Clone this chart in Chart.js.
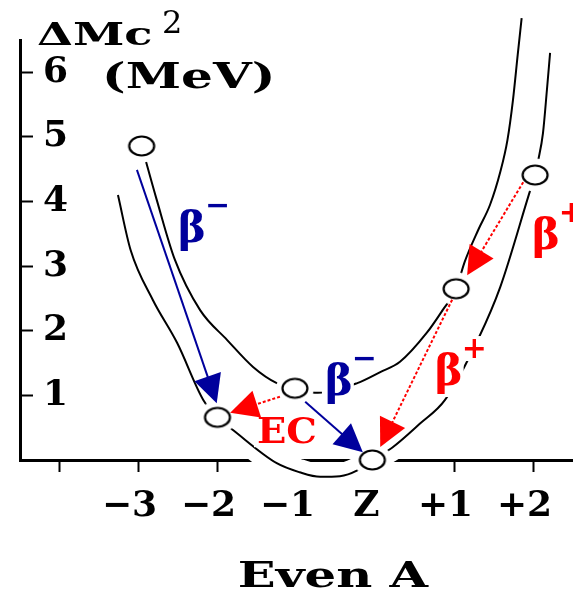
<!DOCTYPE html>
<html>
<head>
<meta charset="utf-8">
<script src="https://cdn.jsdelivr.net/npm/chart.js@4/dist/chart.umd.min.js"></script>
<style>
html,body{margin:0;padding:0;background:#fff;}
#wrap{width:573px;height:592px;position:relative;overflow:hidden;}
canvas{display:block;}
</style>
</head>
<body>
<div id="wrap"><canvas id="c" width="573" height="592"></canvas></div>
<script>
// ---- tick labels ----
const xTickValues = [-4, -3, -2, -1, 0, 1, 2];
const xTickLabels = ['', '\u22123', '\u22122', '\u22121', 'Z', '+1', '+2'];
const yTickValues = [1, 2, 3, 4, 5, 6];

// ---- nuclides (open circles) ----
const nuclideX = [-2.96, -2.00, -1.02, -0.04, 1.02, 2.02];
const nuclideY = [4.86, 0.66, 1.11, 0.00, 2.65, 4.41];

// ---- upper (odd-odd) curve ----
const upperX = [-2.96, -2.77, -2.54, -2.22, -1.88, -1.55, -1.25, -1.02, -0.73, -0.23, 0.06, 0.31, 0.65, 0.85, 1.02, 1.13, 1.30, 1.45, 1.58, 1.67, 1.74, 1.80, 1.85];
const upperY = [4.86, 4.03, 3.10, 2.32, 1.86, 1.44, 1.19, 1.11, 1.04, 1.19, 1.36, 1.52, 1.97, 2.32, 2.65, 3.07, 3.56, 3.95, 4.46, 4.95, 5.57, 6.27, 6.84];

// ---- lower (even-even) curve ----
const lowerX = [-3.26, -3.10, -2.82, -2.51, -2.18, -2.00, -1.80, -1.25, -0.96, -0.70, -0.45, -0.23, -0.04, 0.21, 0.56, 0.88, 1.31, 1.58, 1.96, 2.02, 2.06, 2.12, 2.17, 2.21];
const lowerY = [4.10, 3.25, 2.48, 1.81, 0.93, 0.66, 0.46, -0.05, -0.19, -0.26, -0.25, -0.16, 0.00, 0.19, 0.56, 0.93, 1.90, 2.68, 4.18, 4.41, 4.64, 5.06, 5.73, 6.30];

// ---- decay arrows (start -> tip) ----
const arrowKind  = ['beta-', 'beta-', 'EC', 'beta+', 'beta+'];
const arrowFromX = [-3.02, -0.89, -1.21, 1.87, 0.97];
const arrowFromY = [4.49, 0.90, 0.98, 4.30, 2.48];
const arrowToX   = [-2.01, -0.16, -1.84, 1.16, 0.06];
const arrowToY   = [0.88, 0.12, 0.73, 2.86, 0.20];

// ---- decay labels ----
const labelText = ['\u03B2', '\u03B2', 'EC', '\u03B2', '\u03B2'];
const labelSup  = ['\u2212', '\u2212', '', '+', '+'];
const labelKind = ['beta-', 'beta-', 'EC', 'beta+', 'beta+'];
const labelX    = [-2.50, -0.64, -1.50, 1.98, 0.75];
const labelY    = [3.38, 1.01, 0.26, 3.27, 1.16];

// ---------- styles ----------
const BLUE = '#00009c';
const RED = '#ff0000';
const kindColor = {'beta-': BLUE, 'EC': RED, 'beta+': RED};
const FAMILY = "'DejaVu Serif', 'Liberation Serif', serif";

function pts(xs, ys) { return xs.map((v, i) => ({x: v, y: ys[i]})); }

function ellipseImg(w, h, rx, ry, fill, stroke, lw) {
  const c = document.createElement('canvas');
  c.width = w; c.height = h;
  const g = c.getContext('2d');
  g.beginPath();
  g.ellipse(w / 2, h / 2, rx, ry, 0, 0, Math.PI * 2);
  g.fillStyle = fill; g.fill();
  if (stroke) { g.lineWidth = lw; g.strokeStyle = stroke; g.stroke(); }
  return c;
}
const circleImg = ellipseImg(30, 24, 12.5, 9.5, '#fff', '#000', 2.2);
const haloImg = ellipseImg(40, 36, 19, 16.5, '#fff', null, 0);

function stretchText(ctx, txt, x, y, font, color, sx, align) {
  ctx.save();
  ctx.font = font; ctx.fillStyle = color;
  ctx.textBaseline = 'alphabetic'; ctx.textAlign = align || 'left';
  ctx.translate(x, y); ctx.scale(sx, 1);
  ctx.fillText(txt, 0, 0);
  ctx.restore();
}

function drawArrow(ctx, x1, y1, x2, y2, color, dash) {
  const dx = x2 - x1, dy = y2 - y1, L = Math.hypot(dx, dy);
  const ux = dx / L, uy = dy / L;
  const hl = 28, hw = 14;
  const bx = x2 - ux * hl, by = y2 - uy * hl;
  ctx.save();
  ctx.strokeStyle = color; ctx.lineWidth = 2; ctx.setLineDash(dash);
  ctx.beginPath(); ctx.moveTo(x1, y1); ctx.lineTo(bx + ux * 4, by + uy * 4); ctx.stroke();
  ctx.setLineDash([]);
  ctx.fillStyle = color;
  ctx.beginPath();
  ctx.moveTo(x2, y2);
  ctx.lineTo(bx - uy * hw, by + ux * hw);
  ctx.lineTo(bx + uy * hw, by - ux * hw);
  ctx.closePath(); ctx.fill();
  ctx.restore();
}

const annotPlugin = {
  id: 'annot',
  afterDatasetsDraw(chart) {
    const {ctx, scales: {x, y}} = chart;
    const mainFont = "bold 42px " + FAMILY;
    const ecFont = "bold 35px " + FAMILY;
    const supFont = "bold 30px " + FAMILY;
    const items = labelText.map((t, i) => {
      const px = x.getPixelForValue(labelX[i]);
      const py = y.getPixelForValue(labelY[i]);
      const font = t === 'EC' ? ecFont : mainFont;
      const sx = t === 'EC' ? 1.1 : 1;
      ctx.save(); ctx.font = font;
      const m = ctx.measureText(t);
      ctx.restore();
      const w = m.width * sx;
      const item = {t, px, py, font, sx, w, color: kindColor[labelKind[i]], sup: labelSup[i]};
      ctx.save();
      ctx.fillStyle = '#fff';
      ctx.fillRect(px - 3, py - m.actualBoundingBoxAscent - 3, w + 4, m.actualBoundingBoxAscent + m.actualBoundingBoxDescent + 6);
      if (item.sup) {
        ctx.font = supFont;
        const ms = ctx.measureText(item.sup);
        item.sx0 = px + w - 1; item.sy0 = py - 27;
        ctx.fillRect(item.sx0 - 1, item.sy0 - ms.actualBoundingBoxAscent - 3, ms.width + 2, ms.actualBoundingBoxAscent + ms.actualBoundingBoxDescent + 6);
      }
      ctx.restore();
      return item;
    });
    arrowKind.forEach((k, i) => {
      drawArrow(ctx,
        x.getPixelForValue(arrowFromX[i]), y.getPixelForValue(arrowFromY[i]),
        x.getPixelForValue(arrowToX[i]), y.getPixelForValue(arrowToY[i]),
        kindColor[k], k === 'beta-' ? [] : [3, 2]);
    });
    items.forEach(it => {
      stretchText(ctx, it.t, it.px, it.py, it.font, it.color, it.sx);
      if (it.sup) stretchText(ctx, it.sup, it.sx0, it.sy0, supFont, it.color, 1);
    });
    const ca = chart.chartArea;
    stretchText(ctx, '\u0394Mc', ca.left + 17, ca.top + 5, "bold 32px " + FAMILY, '#000', 1.45);
    stretchText(ctx, '2', ca.left + 142, ca.top - 7, "32px " + FAMILY, '#000', 1);
    stretchText(ctx, '(MeV)', ca.left + 82, y.getPixelForValue(6) + 16, "bold 36px " + FAMILY, '#000', 1.39);
    stretchText(ctx, 'Even A', 333, 587, "bold 36px " + FAMILY, '#000', 1.38, 'center');
  }
};

Chart.defaults.font.family = FAMILY;
Chart.defaults.color = '#000';

const lowerPts = pts(lowerX, lowerY);

function noPad(s) { s.paddingLeft = 0; s.paddingRight = 0; s.paddingTop = 0; s.paddingBottom = 0; }

new Chart(document.getElementById('c'), {
  type: 'scatter',
  data: {
    datasets: [
      {
        data: lowerPts.slice(5, 14), showLine: true, borderColor: '#fff', borderWidth: 26,
        pointRadius: 0, cubicInterpolationMode: 'monotone', clip: false, order: 4
      },
      {
        data: pts(upperX, upperY), showLine: true, borderColor: '#000', borderWidth: 2,
        pointRadius: 0, cubicInterpolationMode: 'monotone', clip: false, order: 3
      },
      {
        data: lowerPts, showLine: true, borderColor: '#000', borderWidth: 2,
        pointRadius: 0, cubicInterpolationMode: 'monotone', clip: false, order: 3
      },
      {
        data: pts(nuclideX, nuclideY), showLine: false, pointStyle: haloImg, pointRadius: 18,
        clip: false, order: 2
      },
      {
        data: pts(nuclideX, nuclideY), showLine: false, pointStyle: circleImg, pointRadius: 12,
        clip: false, order: 1
      }
    ]
  },
  options: {
    responsive: false,
    animation: false,
    devicePixelRatio: 1,
    events: [],
    layout: {autoPadding: false, padding: {top: 40, left: 0, right: 0, bottom: 0}},
    plugins: {legend: {display: false}, tooltip: {enabled: false}, title: {display: false}},
    scales: {
      x: {
        type: 'linear', min: -4.5, max: 2.5, position: 'bottom',
        afterBuildTicks: s => { s.ticks = xTickValues.map(v => ({value: v})); },
        afterFit: s => { s.height = 132; noPad(s); },
        grid: {drawOnChartArea: false, drawTicks: true, tickLength: 12, tickColor: '#000', tickWidth: 2},
        border: {display: true, color: '#000', width: 3},
        ticks: {
          padding: 13, labelOffset: -9, color: '#000', autoSkip: false, maxRotation: 0,
          font: {family: FAMILY, size: 36, weight: 'bold'},
          callback: v => { const i = xTickValues.indexOf(v); return i < 0 ? '' : xTickLabels[i]; }
        }
      },
      y: {
        type: 'linear', min: 0, max: 6.5, position: 'left',
        afterBuildTicks: s => { s.ticks = yTickValues.map(v => ({value: v})); },
        afterFit: s => { s.width = 20; noPad(s); },
        grid: {drawOnChartArea: false, drawTicks: true, tickLength: -13, tickColor: '#000', tickWidth: 2},
        border: {display: true, color: '#000', width: 3},
        ticks: {
          mirror: true, padding: 23, color: '#000',
          font: {family: FAMILY, size: 36, weight: 'bold'},
          callback: v => String(v)
        }
      }
    }
  },
  plugins: [annotPlugin]
});
</script>
</body>
</html>
